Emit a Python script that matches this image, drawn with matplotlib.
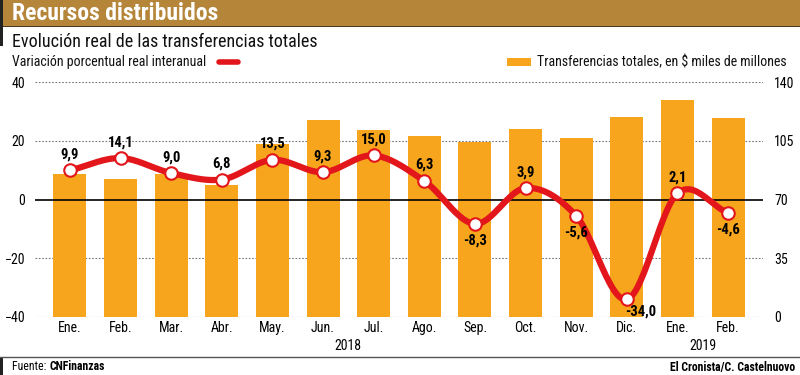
import numpy as np
import matplotlib.pyplot as plt
from matplotlib.patches import Rectangle

plt.rcParams['font.family'] = ['Roboto Condensed', 'Barlow Semi Condensed', 'DejaVu Sans']

# Data
months = ["Ene.", "Feb.", "Mar.", "Abr.", "May.", "Jun.", "Jul.", "Ago.",
          "Sep.", "Oct.", "Nov.", "Dic.", "Ene.", "Feb."]
transfers = [85.0, 82.4, 85.0, 78.8, 103.0, 117.4, 111.2, 107.6,
             104.1, 112.2, 106.6, 119.3, 129.3, 118.4]
variation = [9.9, 14.1, 9.0, 6.8, 13.5, 9.3, 15.0, 6.3,
             -8.3, 3.9, -5.6, -34.0, 2.1, -4.6]
years = ["2018", "2019"]

BAR = "#f6a51c"
RED = "#e2161b"
GOLD = "#b5863a"


def catmull_rom(x, y, n=30):
    x = np.asarray(x, float)
    y = np.asarray(y, float)
    px = np.concatenate([[2 * x[0] - x[1]], x, [2 * x[-1] - x[-2]]])
    py = np.concatenate([[2 * y[0] - y[1]], y, [2 * y[-1] - y[-2]]])
    xs, ys = [], []
    t = np.linspace(0, 1, n)
    for i in range(1, len(px) - 2):
        for p, out in ((px, xs), (py, ys)):
            p0, p1, p2, p3 = p[i - 1], p[i], p[i + 1], p[i + 2]
            out.append(0.5 * (2 * p1 + (-p0 + p2) * t
                              + (2 * p0 - 5 * p1 + 4 * p2 - p3) * t ** 2
                              + (-p0 + 3 * p1 - 3 * p2 + p3) * t ** 3))
    return np.concatenate(xs), np.concatenate(ys)


fig = plt.figure(figsize=(8, 3.75), dpi=100)

# header banner
fig.patches.append(Rectangle((0, 1 - 26 / 375), 1, 26 / 375, transform=fig.transFigure,
                             facecolor=GOLD, edgecolor="none", zorder=0))
fig.patches.append(Rectangle((0, 1 - 27 / 375), 1, 1.2 / 375, transform=fig.transFigure,
                             facecolor="#4a3a20", edgecolor="none", zorder=1))
fig.patches.append(Rectangle((0, 1 - 46 / 375), 3 / 800, 46 / 375, transform=fig.transFigure,
                             facecolor="#222222", edgecolor="none", zorder=2))
fig.text(12 / 800, 1 - 13 / 375, "Recursos distribuidos", color="white", fontsize=17,
         fontweight="bold", va="center", ha="left")
fig.text(12 / 800, 1 - 42 / 375, "Evolución real de las transferencias totales",
         fontsize=13, va="center", ha="left", color="#111111")

# legends
fig.text(12 / 800, 1 - 62 / 375, "Variación porcentual real interanual", fontsize=10,
         va="center", ha="left", color="#111111")
fig.lines.append(plt.Line2D([219 / 800, 238 / 800], [1 - 62 / 375, 1 - 62 / 375],
                            transform=fig.transFigure, color=RED, lw=4,
                            solid_capstyle="round"))
fig.patches.append(Rectangle((507 / 800, 1 - 65.5 / 375), 24 / 800, 7 / 375,
                             transform=fig.transFigure, facecolor=BAR, edgecolor="none"))
fig.text(537 / 800, 1 - 62 / 375, "Transferencias totales, en $ miles de millones",
         fontsize=10, va="center", ha="left", color="#111111")

# footer
fig.lines.append(plt.Line2D([0, 1], [1 - 357 / 375, 1 - 357 / 375],
                            transform=fig.transFigure, color="#555555", lw=1))
fig.patches.append(Rectangle((0, 0), 3 / 800, 18 / 375, transform=fig.transFigure,
                             facecolor="#222222", edgecolor="none"))
t1 = fig.text(12 / 800, 1 - 367 / 375, "Fuente: ", fontsize=8.5, va="center", ha="left")
fig.canvas.draw()
bb = t1.get_window_extent()
fig.text(bb.x1 / 800, 1 - 367 / 375, "CNFinanzas", fontsize=8.5, fontweight="bold",
         va="center", ha="left")
fig.text(795 / 800, 1 - 367 / 375, "El Cronista/C. Castelnuovo", fontsize=8.5,
         fontweight="bold", va="center", ha="right")

# main chart
ax = fig.add_axes([35 / 800, 1 - 317 / 375, 728 / 800, 235 / 375])
x = np.arange(len(months))
ax.set_xlim(-0.69, len(months) - 0.31)
ax.set_ylim(-40, 40)
ax2 = ax.twinx()
ax2.set_ylim(0, 140)

for a in (ax, ax2):
    for s in a.spines.values():
        s.set_visible(False)
ax.set_zorder(ax2.get_zorder() + 1)
ax.patch.set_visible(False)

ax2.bar(x, transfers, width=0.65, color=BAR, zorder=2)
ax2.set_yticks([0, 35, 70, 105, 140])
ax2.tick_params(axis="y", length=0, pad=8, labelsize=10)

ax.set_yticks([-40, -20, 0, 20, 40])
ax.tick_params(axis="y", length=0, pad=7, labelsize=10)
for v in [-40, -20, 20, 40]:
    ax2.axhline((v + 40) * 140 / 80, color="#777777", lw=0.8, ls=(0, (1.5, 1.5)), zorder=1)
ax.axhline(0, color="black", lw=1.2, zorder=3)

ax.set_xticks(x)
ax.set_xticklabels(months)
ax.tick_params(axis="x", length=0, pad=3, labelsize=10)

sx, sy = catmull_rom(x, variation)
ax.plot(sx, sy, color=RED, lw=4.5, zorder=4, solid_capstyle="round")
ax.plot(x, variation, "o", ms=9, mfc="white", mec=RED, mew=1.5, zorder=5)

for i, v in enumerate(variation):
    label = f"{v:.1f}".replace(".", ",")
    if i == 11:
        off = (14, -12)
    elif v < 0:
        off = (0, -17)
    else:
        off = (0, 16)
    ax.annotate(label, (i, v), xytext=off, textcoords="offset pixels",
                ha="center", va="center", fontsize=10.5, fontweight="bold", zorder=6)

ax.text(5.5, -0.125, years[0], transform=ax.get_xaxis_transform(), ha="center",
        va="center", fontsize=10)
ax.text(12.5, -0.125, years[1], transform=ax.get_xaxis_transform(), ha="center",
        va="center", fontsize=10)

fig.savefig("out.png", dpi=100)
